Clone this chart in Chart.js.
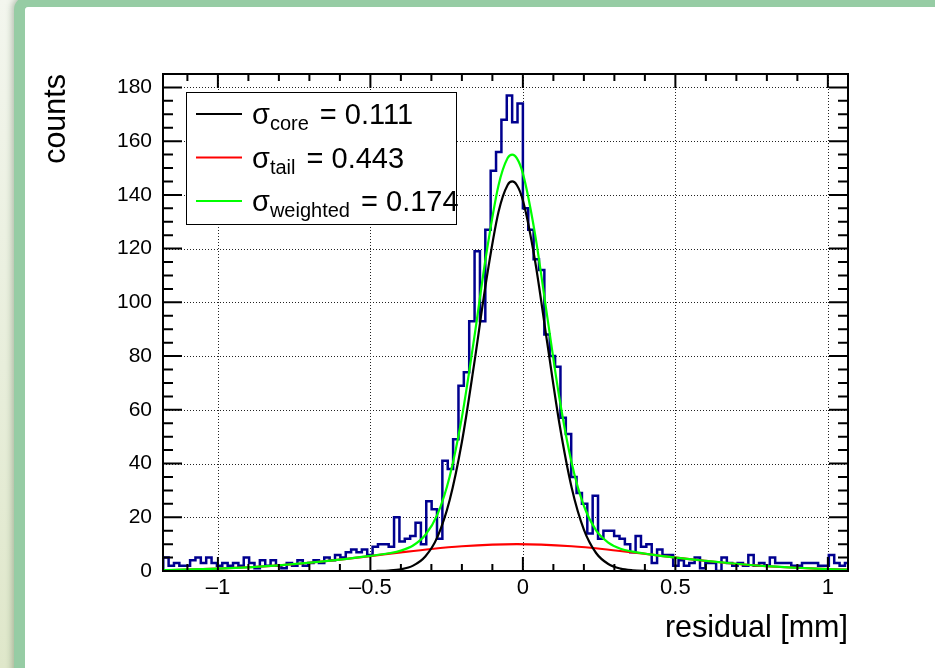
<!DOCTYPE html>
<html>
<head>
<meta charset="utf-8">
<title>residual</title>
<script src="https://cdn.jsdelivr.net/npm/chart.js@4.4.0/dist/chart.umd.min.js"></script>
<style>
  html, body { margin: 0; padding: 0; }
  body {
    width: 935px; height: 668px; overflow: hidden; position: relative;
    background: linear-gradient(to bottom, #f3f6ee 0%, #e8eedb 55%, #dfe7ca 100%);
  }
  #slide {
    position: absolute; left: 14px; top: -4px; width: 960px; height: 700px;
    background: #fff;
    border-left: 11px solid #96cca4; border-top: 11px solid #96cca4;
    border-top-left-radius: 14px;
    box-shadow: -2px -1px 6px rgba(60, 90, 60, 0.35);
  }
  #wrap { position: absolute; left: 0; top: 0; width: 935px; height: 668px; }
</style>
</head>
<body>
<div id="slide"></div>
<div id="wrap"><canvas id="myChart"></canvas></div>
<script>
// histogram: bin edges start at binLow, fixed width
const binLow = -1.1792;
const binWidth = 0.0176;
const counts = [
  5, 2, 3, 2, 2, 4, 5, 3, 5, 3, 2, 3, 2, 3, 2, 5, 3, 1, 4, 2,
  4, 2, 1, 3, 2, 4, 2, 3, 4, 3, 5, 4, 6, 5,
  7, 8, 7, 8, 6, 9, 10, 10, 9, 20,
  11, 12, 13, 18, 10,
  26, 23, 12, 41, 38, 49,
  69, 74, 93, 119, 93, 127, 149, 156, 168, 177, 167, 174,
  135, 127, 116, 112, 88, 80, 76, 57, 51, 35, 29, 25, 14, 28, 12, 15, 15, 13,
  12, 10, 7, 13, 9, 10, 3, 8, 6, 6, 2, 4, 2, 3, 5, 1, 3, 3, 0, 5,
  3, 2, 3, 2, 6, 2, 3, 2, 5, 3, 3, 3, 2, 2, 3, 3, 3, 2, 2, 6,
  3, 2, 3
];

// core gaussian (black), drawn over the fit range only
const coreX = [-0.48, -0.44, -0.40, -0.36, -0.32, -0.28, -0.24, -0.20, -0.16, -0.12, -0.08, -0.05,
  -0.035, -0.02, 0.00, 0.04, 0.08, 0.12, 0.16, 0.20, 0.24, 0.28, 0.32, 0.36, 0.41];
const coreY = [0.05, 0.19, 0.65, 2.0, 5.4, 12.7, 26.4, 48.0, 76.9, 108.1, 133.6, 143.7,
  145.0, 143.7, 138.0, 115.4, 84.8, 54.7, 31.0, 15.4, 6.7, 2.6, 0.87, 0.26, 0.05];

// tail gaussian (red)
const tailX = [-1.18, -1.1, -1.0, -0.9, -0.8, -0.7, -0.6, -0.5, -0.4, -0.3, -0.2, -0.1, -0.02,
  0.06, 0.16, 0.26, 0.36, 0.46, 0.56, 0.66, 0.76, 0.86, 0.96, 1.066];
const tailY = [0.32, 0.51, 0.87, 1.39, 2.12, 3.08, 4.24, 5.56, 6.92, 8.19, 9.21, 9.84, 10.0,
  9.84, 9.21, 8.19, 6.92, 5.56, 4.24, 3.08, 2.12, 1.39, 0.87, 0.5];

// weighted sum (green)
const sumX = [-1.18, -1.0, -0.8, -0.6, -0.5, -0.44, -0.40, -0.36, -0.32, -0.28, -0.24, -0.20,
  -0.16, -0.12, -0.08, -0.05, -0.035, -0.02, 0.00, 0.04, 0.08, 0.12, 0.16, 0.20, 0.24, 0.28,
  0.32, 0.36, 0.41, 0.5, 0.6, 0.7, 0.8, 0.9, 1.0, 1.066];
const sumY = [0.3, 0.9, 2.1, 4.2, 5.6, 6.6, 7.6, 9.5, 13.4, 21.1, 35.2, 57.2,
  86.4, 117.9, 143.5, 153.7, 155.0, 153.7, 148.0, 125.3, 94.6, 64.2, 40.2, 24.2, 15.1, 10.6,
  8.3, 7.2, 6.3, 5.0, 3.8, 2.7, 1.8, 1.2, 0.7, 0.5];

const xTicks = [-1, -0.5, 0, 0.5, 1];
const yTicks = [0, 20, 40, 60, 80, 100, 120, 140, 160, 180];

const legendNames = ['core', 'tail', 'weighted'];
const legendValues = ['0.111', '0.443', '0.174'];
const legendColors = ['#000000', '#ff0000', '#00ff00'];

const FONT = '"Liberation Sans", Arial, Helvetica, sans-serif';

function histPoints(low, w, c) {
  const pts = [{ x: low, y: 0 }];
  c.forEach((v, i) => pts.push({ x: low + i * w, y: v }));
  pts.push({ x: low + c.length * w, y: c[c.length - 1] });
  pts.push({ x: low + c.length * w, y: 0 });
  return pts;
}
function zip(xs, ys) {
  return xs.map((v, i) => ({ x: v, y: ys[i] }));
}

// ROOT style frame: dotted grid, inward ticks, legend and axis titles
const rootFrame = {
  id: 'rootFrame',
  beforeDatasetsDraw(chart) {
    const { ctx, chartArea: a, scales: { x, y } } = chart;
    ctx.save();
    ctx.strokeStyle = '#222';
    ctx.lineWidth = 1;
    ctx.setLineDash([1, 2]);
    ctx.beginPath();
    xTicks.forEach(v => {
      const px = Math.round(x.getPixelForValue(v)) + 0.5;
      ctx.moveTo(px, a.top); ctx.lineTo(px, a.bottom);
    });
    yTicks.forEach(v => {
      const py = Math.round(y.getPixelForValue(v)) + 0.5;
      ctx.moveTo(a.left, py); ctx.lineTo(a.right, py);
    });
    ctx.stroke();
    ctx.restore();
  },
  afterDatasetsDraw(chart) {
    const { ctx, chartArea: a, scales: { x, y } } = chart;
    ctx.save();
    ctx.strokeStyle = '#000';
    ctx.lineWidth = 2;
    ctx.beginPath();
    for (let i = -11; i <= 10; i++) {
      const px = x.getPixelForValue(i / 10);
      const len = i % 5 === 0 ? 14 : 7;
      ctx.moveTo(px, a.bottom); ctx.lineTo(px, a.bottom - len);
      ctx.moveTo(px, a.top); ctx.lineTo(px, a.top + len);
    }
    for (let v = 0; v <= 180; v += 5) {
      const py = y.getPixelForValue(v);
      const len = v % 20 === 0 ? 19 : 10;
      ctx.moveTo(a.left, py); ctx.lineTo(a.left + len, py);
      ctx.moveTo(a.right, py); ctx.lineTo(a.right - len, py);
    }
    ctx.stroke();
    ctx.strokeRect(a.left, a.top, a.right - a.left, a.bottom - a.top);

    // legend box
    const bx = a.left + 23, by = a.top + 18, bw = 270, bh = 132;
    ctx.fillStyle = '#fff';
    ctx.fillRect(bx, by, bw, bh);
    ctx.lineWidth = 1;
    ctx.strokeRect(bx + 0.5, by + 0.5, bw, bh);
    legendNames.forEach((name, i) => {
      const base = by + 32 + i * 43.5;
      ctx.strokeStyle = legendColors[i];
      ctx.lineWidth = 2;
      ctx.beginPath();
      ctx.moveTo(bx + 10, base - 10); ctx.lineTo(bx + 56, base - 10);
      ctx.stroke();
      ctx.fillStyle = '#000';
      ctx.textAlign = 'left';
      ctx.textBaseline = 'alphabetic';
      let tx = bx + 66;
      ctx.font = '29px ' + FONT;
      ctx.fillText('\u03c3', tx, base);
      tx += ctx.measureText('\u03c3').width;
      ctx.font = '20px ' + FONT;
      ctx.fillText(name, tx, base + 6);
      tx += ctx.measureText(name).width + 3;
      ctx.font = '29px ' + FONT;
      ctx.fillText(' = ' + legendValues[i], tx, base);
    });

    // axis titles
    ctx.fillStyle = '#000';
    ctx.font = '30.5px ' + FONT;
    ctx.textAlign = 'right';
    ctx.textBaseline = 'alphabetic';
    ctx.fillText('residual [mm]', a.right, 637);
    ctx.translate(65, a.top);
    ctx.rotate(-Math.PI / 2);
    ctx.fillText('counts', 0, 0);
    ctx.restore();
  }
};

const ctx = document.getElementById('myChart');
new Chart(ctx, {
  type: 'line',
  data: {
    datasets: [
      { label: 'weighted', data: zip(sumX, sumY), borderColor: '#00ff00', borderWidth: 2.2,
        pointRadius: 0, cubicInterpolationMode: 'monotone', order: 0 },
      { label: 'core', data: zip(coreX, coreY), borderColor: '#000000', borderWidth: 2.2,
        pointRadius: 0, cubicInterpolationMode: 'monotone', order: 1 },
      { label: 'tail', data: zip(tailX, tailY), borderColor: '#ff0000', borderWidth: 2.2,
        pointRadius: 0, cubicInterpolationMode: 'monotone', order: 2 },
      { label: 'residuals', data: histPoints(binLow, binWidth, counts), borderColor: '#00008f',
        borderWidth: 2.5, pointRadius: 0, stepped: 'before', order: 3 }
    ]
  },
  options: {
    responsive: true,
    maintainAspectRatio: false,
    animation: false,
    devicePixelRatio: 1,
    events: [],
    layout: { padding: { left: 0, top: 74, right: 87, bottom: 0 } },
    plugins: { legend: { display: false }, tooltip: { enabled: false } },
    scales: {
      x: {
        type: 'linear', min: -1.18, max: 1.066,
        grid: { display: false, drawTicks: false },
        border: { display: false },
        afterFit(s) { s.height = 97; },
        afterBuildTicks(s) { s.ticks = xTicks.map(v => ({ value: v })); },
        ticks: {
          autoSkip: false, maxRotation: 0, padding: 4, color: '#000',
          font: { family: FONT, size: 22 },
          callback: v => (v < 0 ? '\u2013' + Math.abs(v) : String(v))
        }
      },
      y: {
        type: 'linear', min: 0, max: 185,
        grid: { display: false, drawTicks: false },
        border: { display: false },
        afterFit(s) { s.width = 163; },
        afterBuildTicks(s) { s.ticks = yTicks.map(v => ({ value: v })); },
        ticks: {
          padding: 11, color: '#000',
          font: { family: FONT, size: 21 }
        }
      }
    }
  },
  plugins: [rootFrame]
});
</script>
</body>
</html>
